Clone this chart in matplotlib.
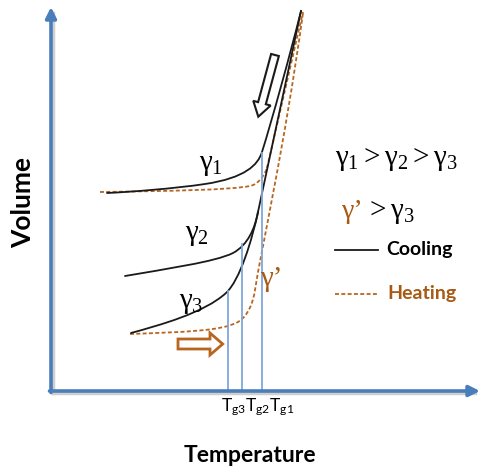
import matplotlib
matplotlib.use("Agg")
import matplotlib.pyplot as plt
from matplotlib.path import Path
from matplotlib.patches import PathPatch, FancyArrow

plt.rcParams['mathtext.fontset'] = 'custom'
plt.rcParams['mathtext.rm'] = 'Liberation Serif'
plt.rcParams['mathtext.it'] = 'Liberation Serif'
plt.rcParams['mathtext.sf'] = 'Lato'

BLACK = '#1a1a1a'
ORANGE = '#b8661f'
ORANGE_TXT = '#a85a14'
AXIS_BLUE = '#4a7ebb'
TG_BLUE = '#7fa7dc'

# cubic Bezier control points (temperature, volume), first point is the start
# cooling curves share the liquid line from the top
cool_g1 = [(250, 380), (239, 336), (221, 271), (211, 239),
           (207, 226), (194, 213), (154, 207),
           (124, 202.5), (79, 199), (56, 198)]
cool_g2_liquid = [(250, 380), (207, 179)]
cool_g2 = [(207, 179), (204, 163), (197, 146), (182, 138),
           (164, 129), (114, 122), (74, 115)]
cool_g3 = [(207, 179), (201, 151), (189, 111), (175, 98),
           (153, 78), (109, 66), (80, 58)]
# heating curves
heat_g1 = [(49, 199), (119, 200), (179, 201), (199, 205),
           (207, 206.5), (213, 215), (216, 223)]
heat_g1_liquid = [(216, 223), (252, 379)]
heat_gp = [(79, 57), (134, 59), (171, 60), (187, 69),
           (197, 75), (202, 88), (204, 101),
           (211, 146), (233, 241), (252, 378)]

# glass transition temperatures and where each meets its curve
tg_temps = [211, 191.5, 177]
tg_vols = [238, 147, 100]
tg_label = r'$\mathsf{T_{g3}T_{g2}T_{g1}}$'


def bezier(ax, pts, **kw):
    codes = [Path.MOVETO] + [Path.CURVE4] * (len(pts) - 1)
    ax.add_patch(PathPatch(Path(pts, codes), fill=False, **kw))


fig = plt.figure(figsize=(4.81, 4.70), dpi=100)
ax = fig.add_axes([0, 0, 1, 1])
ax.set_xlim(-51, 430)
ax.set_ylim(-79, 391)
ax.axis('off')

solid = dict(color=BLACK, lw=1.3, capstyle='round')
dashed = dict(color=ORANGE, lw=1.3, linestyle=(0, (2.2, 1.3)))

# heating underneath, cooling on top
bezier(ax, heat_g1, **dashed)
ax.plot(*zip(*heat_g1_liquid), **dashed)
bezier(ax, heat_gp, **dashed)

bezier(ax, cool_g1, **solid)
ax.plot(*zip(*cool_g2_liquid), color=BLACK, lw=1.3)
bezier(ax, cool_g2, **solid)
bezier(ax, cool_g3, **solid)

# Tg drop lines
for t, v in zip(tg_temps, tg_vols):
    ax.plot([t, t], [0, v], color=TG_BLUE, lw=1.3)
ax.text(min(tg_temps) - 7, -5, tg_label, fontsize=12.5, ha='left', va='top')

# axes with soft shadow
ax.plot([2, 2], [-2, 378], color='#cfcfcf', lw=2.5, zorder=1)
ax.plot([2, 424], [-2, -2], color='#cfcfcf', lw=2.5, zorder=1)
ax.annotate('', xy=(0, 384), xytext=(0, -1.5),
            arrowprops=dict(arrowstyle='-|>', color=AXIS_BLUE, lw=2.6,
                            mutation_scale=16, shrinkA=0, shrinkB=0))
ax.annotate('', xy=(429, 0), xytext=(-1.5, 0),
            arrowprops=dict(arrowstyle='-|>', color=AXIS_BLUE, lw=2.6,
                            mutation_scale=16, shrinkA=0, shrinkB=0))

# direction arrows
ax.add_patch(FancyArrow(224, 336, -16.7, -61.7, width=8, head_width=18,
                        head_length=14, length_includes_head=True,
                        facecolor='white', edgecolor=BLACK, lw=1.5, zorder=5))
ax.add_patch(FancyArrow(127, 47, 44.7, 0, width=10, head_width=22,
                        head_length=12.7, length_includes_head=True,
                        facecolor='white', edgecolor=ORANGE, lw=2, zorder=5))

# curve labels
ax.text(160, 227, r'$\gamma_1$', fontsize=21, ha='center', va='center')
ax.text(146, 157, r'$\gamma_2$', fontsize=21, ha='center', va='center')
ax.text(140, 89, r'$\gamma_3$', fontsize=21, ha='center', va='center')
ax.text(220, 112, 'γ’', fontsize=21, ha='center', va='center',
        color=ORANGE_TXT, family='Liberation Serif')

# key
ax.text(345, 232, r'$\gamma_1 > \gamma_2 > \gamma_3$', fontsize=21,
        ha='center', va='center')
ax.text(291, 180, 'γ’', fontsize=20, ha='left', va='center',
        color=ORANGE_TXT, family='Liberation Serif')
ax.text(314, 179, r'$> \gamma_3$', fontsize=21, ha='left', va='center')
ax.plot([284, 327], [141, 141], color=BLACK, lw=1.3)
ax.text(335, 141, 'Cooling', fontsize=14, family='Lato', weight='bold',
        ha='left', va='center')
ax.plot([284, 327], [97, 97], **dashed)
ax.text(336, 98, 'Heating', fontsize=14, family='Lato', weight='bold',
        color=ORANGE_TXT, ha='left', va='center')

ax.text(-28, 188, 'Volume', fontsize=19, family='Lato', weight='bold',
        rotation=90, ha='center', va='center')
ax.text(199, -64, 'Temperature', fontsize=16.5, family='Lato', weight='bold',
        ha='center', va='center')

fig.savefig('out.png', dpi=100)
